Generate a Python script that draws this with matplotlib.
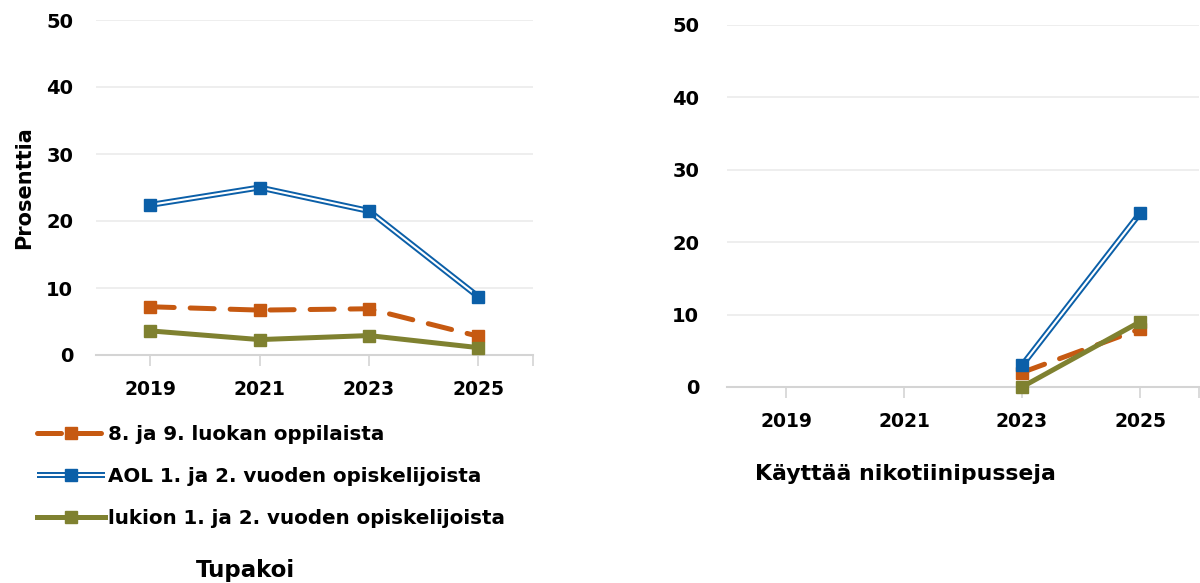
import matplotlib
matplotlib.use("Agg")
import matplotlib.pyplot as plt
import numpy as np

# Vuodet ja arvot (prosenttia)
years = ["2019", "2021", "2023", "2025"]
labels = ["8. ja 9. luokan oppilaista",
          "AOL 1. ja 2. vuoden opiskelijoista",
          "lukion 1. ja 2. vuoden opiskelijoista"]

# Tupakoi
smoke_peruskoulu = [7.2, 6.7, 6.9, 2.8]
smoke_aol = [22.4, 25.0, 21.5, 8.7]
smoke_lukio = [3.6, 2.3, 2.9, 1.1]

# Käyttää nikotiinipusseja
pouch_peruskoulu = [np.nan, np.nan, 2, 8]
pouch_aol = [np.nan, np.nan, 3, 24]
pouch_lukio = [np.nan, np.nan, 0, 9]

orange = "#C65911"
blue = "#0B5FA8"
green = "#7F8130"
grid_col = "#EBEBEB"
axis_col = "#D4D4D4"
fs = 14

plt.rcParams["font.family"] = "DejaVu Sans"
plt.rcParams["font.weight"] = "bold"

fig = plt.figure(figsize=(12, 5.83), dpi=100)
W, H = 1200, 583


def make_axes(x0, x1, y_top, y_zero):
    return fig.add_axes([x0 / W, 1 - y_zero / H, (x1 - x0) / W, (y_zero - y_top) / H])


def draw_panel(ax, vals_pk, vals_aol, vals_lk, ypad):
    x = np.arange(len(years))
    # 8. ja 9. luokka: katkoviiva
    h1, = ax.plot(x, vals_pk, color=orange, lw=3.6, linestyle=(0, (4.8, 3.2)),
                  dash_capstyle="round", marker="s", ms=8.8, zorder=3)
    # AOL: kaksoisviiva
    h2a, = ax.plot(x, vals_aol, color=blue, lw=4.3, zorder=4, solid_capstyle="butt")
    h2b, = ax.plot(x, vals_aol, color="white", lw=1.5, zorder=4, solid_capstyle="butt")
    h2c, = ax.plot(x, vals_aol, color=blue, lw=0, marker="s", ms=8.8, zorder=5)
    # lukio: yhtenäinen
    h3, = ax.plot(x, vals_lk, color=green, lw=3.6, marker="s", ms=8.8, zorder=3)
    handles = [h1, (h2a, h2b, h2c), h3]

    ax.set_xlim(-0.5, len(years) - 0.5)
    ax.set_ylim(0, 50)
    ax.set_yticks(range(0, 51, 10))
    ax.set_xticks(x)
    ax.set_xticks([len(years) - 0.5], minor=True)
    ax.set_xticklabels(years, fontsize=13.5, fontweight="bold")
    ax.tick_params(axis="x", which="both", length=8, color=axis_col, width=1.2, pad=10)
    ax.tick_params(axis="y", length=0, pad=ypad, labelsize=fs)
    for t in ax.get_yticklabels():
        t.set_fontweight("bold")
    ax.grid(axis="y", color=grid_col, lw=1.2)
    ax.set_axisbelow(True)
    for s in ["top", "right", "left"]:
        ax.spines[s].set_visible(False)
    ax.spines["bottom"].set_color(axis_col)
    ax.spines["bottom"].set_linewidth(1.5)
    ax.patch.set_alpha(0)
    for h in [h1, h2a, h2b, h2c, h3]:
        h.set_clip_on(False)
    return handles


ax1 = make_axes(95.5, 533, 20, 355)
handles = draw_panel(ax1, smoke_peruskoulu, smoke_aol, smoke_lukio, ypad=16)
ax1.set_ylabel("Prosenttia", fontsize=15, fontweight="bold", labelpad=9)

ax2 = make_axes(727, 1199, 25, 387)
draw_panel(ax2, pouch_peruskoulu, pouch_aol, pouch_lukio, ypad=20)

fig.legend(handles, labels, loc="upper left", bbox_to_anchor=(37 / W, 1 - 425 / H),
           borderaxespad=0, borderpad=0, frameon=False, handlelength=3.4,
           handletextpad=0.15, labelspacing=1.16,
           prop={"size": 14.3, "weight": "bold"})

fig.text(905 / W, 1 - 474 / H, "Käyttää nikotiinipusseja", ha="center", va="center",
         fontsize=15.8, fontweight="bold")
fig.text(245 / W, 1 - 570 / H, "Tupakoi", ha="center", va="center",
         fontsize=16.5, fontweight="bold")

fig.savefig("out.png", dpi=100)
